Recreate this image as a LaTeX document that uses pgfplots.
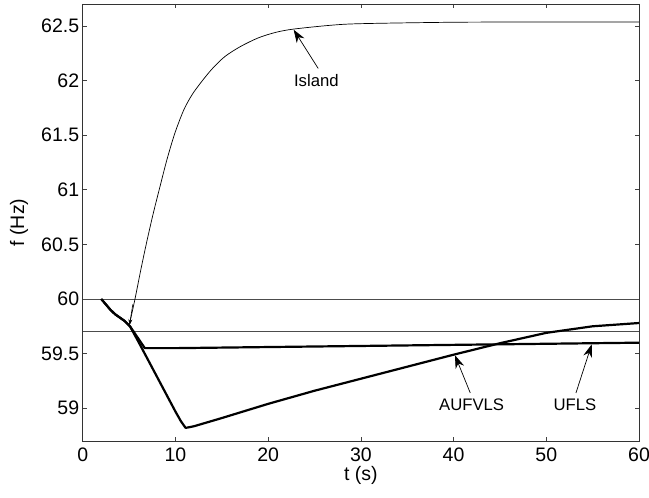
\documentclass[border=0pt]{standalone}
\usepackage{fontspec}
\setmainfont{Liberation Sans}
\usepackage{pgfplots}
\pgfplotsset{compat=1.18}
\usetikzlibrary{arrows.meta}
\begin{document}
\begin{tikzpicture}
\begin{axis}[
  scale only axis,
  width=556.3bp, height=437bp,
  xmin=0, xmax=60, ymin=58.7, ymax=62.7,
  xtick={0,10,20,30,40,50,60},
  ytick={59,59.5,60,60.5,61,61.5,62,62.5},
  yticklabels={59,59.5,60,60.5,61,61.5,62,62.5},
  tick align=inside,
  major tick length=4bp,
  tick style={black!75, line width=0.6bp},
  axis line style={black!80, line width=0.8bp},
  /pgf/number format/assume math mode=true,
  tick label style={font=\fontsize{19.5bp}{23bp}\selectfont},
  label style={font=\fontsize{19.5bp}{23bp}\selectfont},
  xticklabel style={yshift=-3bp},
  xlabel={t (s)},
  ylabel={f (Hz)},
  xlabel style={at={(rel axis cs:0.5,0)}, anchor=center, yshift=-34bp},
  ylabel style={at={(rel axis cs:0,0.5)}, anchor=center, yshift=63.5bp},
  clip=true,
]
% reference lines
\addplot[black!70, line width=0.8bp] coordinates {(0,60) (60,60)};
\addplot[black!70, line width=0.8bp] coordinates {(0,59.7) (60,59.7)};
% Island
\addplot[black, line width=0.7bp, smooth, tension=0.5] coordinates {
 (5.1,59.79) (5.64,60.0) (6.3,60.28) (6.9,60.52) (7.6,60.78) (8.34,61.03)
 (9.1,61.28) (9.95,61.52) (10.9,61.73) (11.8,61.87) (12.83,61.99) (14,62.11)
 (15.35,62.22) (17,62.31) (18.94,62.39) (20.8,62.44) (22.71,62.47)
 (26.7,62.505) (30,62.52) (40,62.533) (50,62.535) (60,62.535)};
% UFLS
\addplot[black, line width=2.2bp, line join=round] coordinates {
 (2.0,60.0) (2.5,59.95) (3.0,59.9) (3.5,59.86) (4.0,59.83) (4.5,59.8) (5.1,59.75)
 (6.7,59.55) (10,59.55) (20,59.56) (30,59.57) (40,59.58) (50,59.59) (60,59.60)};
% AUFVLS
\addplot[black, line width=2.2bp, line join=round] coordinates {
 (2.0,60.0) (2.5,59.95) (3.0,59.9) (3.5,59.86) (4.0,59.83) (4.5,59.8) (5.1,59.75)
 (6,59.61) (7,59.45) (8,59.29) (9,59.13) (10,58.97) (10.6,58.88) (11.1,58.82)
 (12,58.835) (13,58.86) (15,58.91) (20,59.04) (25,59.16) (30,59.27) (35,59.38)
 (40,59.49) (45,59.595) (50,59.69) (55,59.75) (60,59.78)};
% annotations
\draw[black, line width=0.7bp, -{Stealth[length=13bp,width=9bp]}] (axis cs:25.4,62.11) -- (axis cs:22.75,62.465);
\node[font=\fontsize{16.7bp}{20bp}\selectfont] at (axis cs:25.2,62.0) {Island};
\draw[black, line width=0.7bp, -{Stealth[length=13bp,width=9bp]}] (axis cs:41.8,59.14) -- (axis cs:40.15,59.485);
\node[font=\fontsize{16.7bp}{20bp}\selectfont] at (axis cs:41.95,59.03) {AUFVLS};
\draw[black, line width=0.7bp, -{Stealth[length=13bp,width=9bp]}] (axis cs:53.2,59.14) -- (axis cs:54.9,59.585);
\node[font=\fontsize{16.7bp}{20bp}\selectfont] at (axis cs:53.1,59.03) {UFLS};
\draw[black, line width=0.6bp, -{Stealth[length=6bp,width=4bp]}] (axis cs:5.4,59.95) -- (axis cs:5.05,59.76);
\end{axis}
\pgfresetboundingbox
\path ([shift={(-82.7bp,-56bp)}]current axis.south west) rectangle ([shift={(10bp,4bp)}]current axis.north east);
\end{tikzpicture}
\end{document}
